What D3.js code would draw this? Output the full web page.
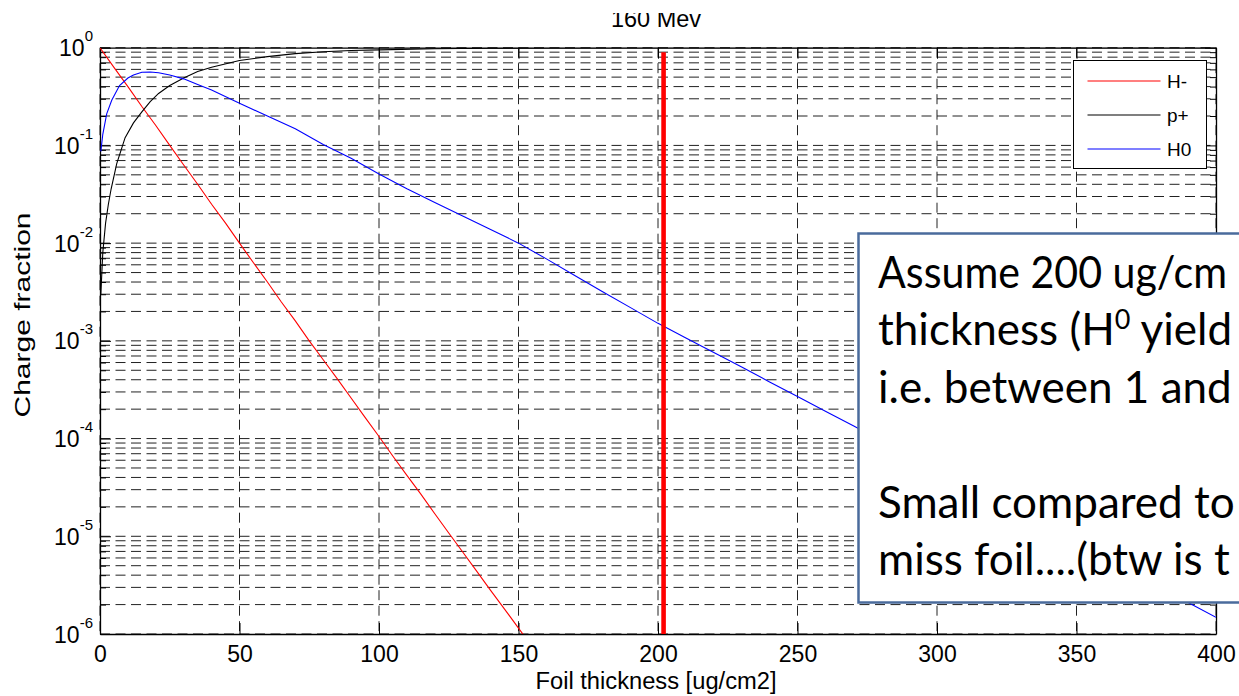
<!DOCTYPE html>
<html><head><meta charset="utf-8">
<script src="https://cdn.jsdelivr.net/npm/d3@7"></script>
<style>body{margin:0;background:#fff}svg{display:block}</style>
</head><body>
<svg id="chart" width="1239" height="696"></svg>
<script>
const title = "160 Mev";
const xLabel = "Foil thickness [ug/cm2]";
const yLabel = "Charge fraction";
const xTicks = [0, 50, 100, 150, 200, 250, 300, 350, 400];
const yExponents = [0, -1, -2, -3, -4, -5, -6];
const seriesNames = ["H-", "p+", "H0"];
const seriesColors = ["#ff0000", "#000000", "#0000ff"];

const hMinusX = [0,5,10,15,20,25,30,35,40,45,50,55,60,65,70,75,80,85,90,95,100,105,110,115,120,125,130,135,140,145,150,155];
const hMinusY = [1,0.63,0.40,0.25,0.16,0.10,0.063,0.040,0.025,0.016,0.0100,0.0063,0.0040,0.0025,0.0016,1.0e-3,6.4e-4,4.1e-4,2.6e-4,1.65e-4,1.05e-4,6.6e-5,4.2e-5,2.7e-5,1.7e-5,1.08e-5,6.9e-6,4.4e-6,2.8e-6,1.8e-6,1.15e-6,7.3e-7];

const pPlusX = [0.3,1,2,3,4,6,9,12,15,18,21,25,30,35,40,50,60,70,80,90,100,120,140,160,200,250,300,350,400];
const pPlusY = [0.003,0.008,0.016,0.025,0.036,0.065,0.12,0.17,0.22,0.28,0.34,0.41,0.49,0.57,0.63,0.74,0.81,0.87,0.91,0.935,0.95,0.975,0.987,0.993,0.998,0.999,1,1,1];

const h0X = [0.3,1,2.4,4.2,7,10,12,15,18,21,25,30,35,40,50,60,70,80,90,100,110,120,130,140,150,160,170,180,190,200,210,220,230,240,250,260,270,280,290,300,310,320,330,340,350,360,370,380,390,400];
const h0Y = [0.087,0.13,0.21,0.29,0.41,0.49,0.525,0.56,0.565,0.555,0.525,0.48,0.42,0.37,0.27,0.20,0.148,0.102,0.074,0.051,0.036,0.026,0.019,0.0138,0.0100,0.0069,0.0047,0.0032,0.0022,0.00151,0.00107,7.6e-4,5.4e-4,3.8e-4,2.7e-4,1.9e-4,1.35e-4,9.5e-5,6.8e-5,4.8e-5,3.4e-5,2.4e-5,1.7e-5,1.2e-5,8.3e-6,5.9e-6,4.2e-6,3.0e-6,2.1e-6,1.48e-6];

const markerX = 202;
const markerTop = 0.9;
const noteLines = ["Assume 200 ug/cm", "thickness (H|0| yield", "i.e. between 1 and", "", "Small compared to", "miss foil....(btw is t"];

const svg = d3.select("#chart");
const L = 100, R = 1216, T = 47.7, B = 634;
const x = d3.scaleLinear().domain([0, 400]).range([L, R]);
const y = d3.scaleLog().domain([1e-6, 1]).range([B, T]);
const arial = "'Liberation Sans', Arial, sans-serif";

svg.append("rect").attr("width", 1239).attr("height", 696).attr("fill", "#fff");

const defs = svg.append("defs");
defs.append("clipPath").attr("id", "plotClip").append("rect")
  .attr("x", L).attr("y", T).attr("width", R - L).attr("height", B - T);
defs.append("clipPath").attr("id", "titleClip").append("rect")
  .attr("x", 0).attr("y", 13).attr("width", 1239).attr("height", 30);

// grid
const decades = yExponents.map(e => Math.pow(10, e));
const minors = [];
for (let e = -6; e < 0; e++) for (let k = 2; k <= 9; k++) minors.push(k * Math.pow(10, e));
const grid = svg.append("g").attr("stroke", "#222").attr("stroke-width", 1)
  .attr("stroke-dasharray", "10,5.5").attr("fill", "none");
grid.selectAll("line.h").data(decades.concat(minors)).join("line")
  .attr("x1", L).attr("x2", R).attr("y1", d => y(d)).attr("y2", d => y(d));
grid.selectAll("line.v").data(xTicks).join("line")
  .attr("x1", d => x(d)).attr("x2", d => x(d)).attr("y1", T).attr("y2", B);

// axes
const fmtEmpty = () => "";
const axB = svg.append("g").attr("transform", `translate(0,${B})`)
  .call(d3.axisBottom(x).tickValues(xTicks).tickSizeInner(-11).tickSizeOuter(0).tickPadding(12).tickFormat(d3.format("d")));
svg.append("g").attr("transform", `translate(0,${T})`)
  .call(d3.axisTop(x).tickValues(xTicks).tickSizeInner(-11).tickSizeOuter(0).tickFormat(fmtEmpty));
const axL = svg.append("g").attr("transform", `translate(${L},0)`)
  .call(d3.axisLeft(y).tickValues(decades).tickSizeInner(-11).tickSizeOuter(0).tickPadding(7).tickFormat(fmtEmpty));
svg.append("g").attr("transform", `translate(${R},0)`)
  .call(d3.axisRight(y).tickValues(decades).tickSizeInner(-11).tickSizeOuter(0).tickFormat(fmtEmpty));
svg.append("g").attr("transform", `translate(${L},0)`)
  .call(d3.axisLeft(y).tickValues(minors).tickSizeInner(-6).tickSizeOuter(0).tickFormat(fmtEmpty))
  .call(g => g.select(".domain").remove());
svg.append("g").attr("transform", `translate(${R},0)`)
  .call(d3.axisRight(y).tickValues(minors).tickSizeInner(-6).tickSizeOuter(0).tickFormat(fmtEmpty))
  .call(g => g.select(".domain").remove());
svg.selectAll(".domain").attr("stroke", "#000").attr("stroke-width", 1.3);
svg.selectAll(".tick line").attr("stroke", "#000");
axB.selectAll("text").attr("font-family", arial).attr("font-size", 23).attr("fill", "#000");

axL.selectAll(".tick text").each(function(d) {
  const t = d3.select(this);
  t.text(null).attr("font-family", arial).attr("fill", "#000").attr("font-size", 23).attr("dy", null).attr("y", 8);
  t.append("tspan").text("10");
  t.append("tspan").attr("font-size", 15).attr("dy", -15).text(String(Math.round(Math.log10(d))));
});

// curves
const series = [
  {name: seriesNames[0], color: seriesColors[0], xs: hMinusX, ys: hMinusY},
  {name: seriesNames[1], color: seriesColors[1], xs: pPlusX, ys: pPlusY},
  {name: seriesNames[2], color: seriesColors[2], xs: h0X, ys: h0Y}
];
const line = d3.line().x(d => x(d[0])).y(d => y(d[1]));
const plot = svg.append("g").attr("clip-path", "url(#plotClip)");
series.forEach(s => {
  plot.append("path").datum(s.xs.map((v, i) => [v, s.ys[i]]))
    .attr("d", line).attr("fill", "none").attr("stroke", s.color).attr("stroke-width", 1.1);
});

// red marker line
svg.append("line").attr("x1", x(markerX)).attr("x2", x(markerX))
  .attr("y1", y(markerTop)).attr("y2", y(1e-6)).attr("stroke", "#ff0000").attr("stroke-width", 4.6);

// legend
const lg = svg.append("g");
lg.append("rect").attr("x", 1073.5).attr("y", 60.5).attr("width", 133).attr("height", 108)
  .attr("fill", "#fff").attr("stroke", "#000").attr("stroke-width", 1);
series.forEach((s, i) => {
  const yy = 81 + i * 34;
  lg.append("line").attr("x1", 1087.5).attr("x2", 1160.5).attr("y1", yy).attr("y2", yy)
    .attr("stroke", s.color).attr("stroke-width", 1.1);
  lg.append("text").attr("x", 1167).attr("y", yy + 7).attr("font-family", arial)
    .attr("font-size", 19).attr("fill", "#000").text(s.name);
});

// labels
svg.append("text").attr("x", 656).attr("y", 27).attr("text-anchor", "middle")
  .attr("clip-path", "url(#titleClip)").attr("font-family", arial).attr("font-size", 23.5).attr("fill", "#000").text(title);
svg.append("text").attr("x", 656).attr("y", 689).attr("text-anchor", "middle")
  .attr("font-family", arial).attr("font-size", 23.5).attr("fill", "#000")
  .attr("textLength", 241).attr("lengthAdjust", "spacingAndGlyphs").text(xLabel);
svg.append("text").attr("transform", "translate(29.5,315) rotate(-90)").attr("text-anchor", "middle")
  .attr("font-family", arial).attr("font-size", 22).attr("fill", "#000")
  .attr("textLength", 205).attr("lengthAdjust", "spacingAndGlyphs").text(yLabel);

// note box
const nb = svg.append("g");
nb.append("rect").attr("x", 858.5).attr("y", 233.5).attr("width", 420).attr("height", 369)
  .attr("fill", "#fff").attr("stroke", "#4a6b9c").attr("stroke-width", 2.5);
const noteFont = "Lato, 'Open Sans', sans-serif";
noteLines.forEach((ln, i) => {
  if (!ln) return;
  const sx = i === 0 ? 0.935 : 1;
  const t = nb.append("text").attr("transform", `translate(878,${288 + i * 57.4}) scale(${sx},1)`)
    .attr("font-family", noteFont).attr("font-size", 44).attr("fill", "#000");
  const parts = ln.split("|");
  parts.forEach((p, j) => {
    if (j % 2 === 1) {
      t.append("tspan").attr("font-size", 27).attr("dy", -16).text(p);
    } else if (j > 0) {
      t.append("tspan").attr("dy", 16).text(p);
    } else {
      t.append("tspan").text(p);
    }
  });
});
</script>
</body></html>
